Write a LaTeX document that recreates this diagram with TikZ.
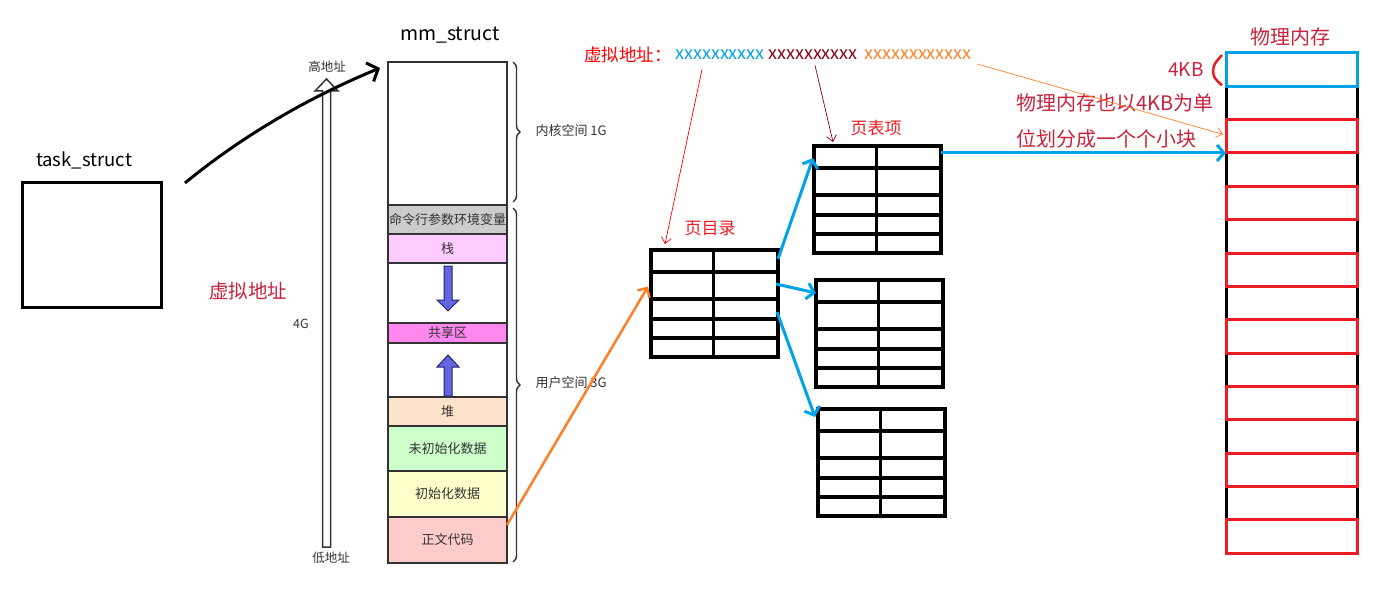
\documentclass[tikz,border=0pt]{standalone}
\usepackage{fontspec}
\setmainfont{Noto Sans CJK SC}
\usetikzlibrary{arrows.meta,decorations.pathreplacing,calc}
\definecolor{crim}{RGB}{200,35,60}
\definecolor{pmred}{RGB}{237,28,36}
\definecolor{pblue}{RGB}{0,162,232}
\definecolor{porange}{RGB}{255,127,39}
\definecolor{dred}{RGB}{136,0,21}
\definecolor{txtgray}{RGB}{51,51,51}
\definecolor{cgray}{RGB}{204,204,204}
\definecolor{cstack}{RGB}{255,204,255}
\definecolor{cshare}{RGB}{255,136,238}
\definecolor{cheap}{RGB}{253,227,203}
\definecolor{cbss}{RGB}{204,255,204}
\definecolor{cdata}{RGB}{255,255,204}
\definecolor{ctext}{RGB}{255,204,204}
\definecolor{carrow}{RGB}{100,100,225}
\newcommand\ptab[3]{%
  \node[tbl, anchor=north west] (#1) at (#2,#3) {};
  \foreach \r in {22,49,69,88}
    \draw[tblline] ($(#1.north west)+(0,\r)$) -- ($(#1.north east)+(0,\r)$);
  \draw[tblline] ($(#1.north west)+(62.5,0)$) -- ($(#1.south west)+(62.5,0)$);
}
\begin{document}
\begin{tikzpicture}[x=1pt,y=-1pt,
  fs/.style={font=\fontsize{#1}{#1}\selectfont},
  col/.style={draw=txtgray, line width=1.8pt, outer sep=0, minimum width=119, inner sep=0, text=txtgray, fs=13},
  tbl/.style={draw=black, line width=3.5pt, outer sep=0, minimum width=127, minimum height=107, inner sep=0},
  tblline/.style={draw=black, line width=3.5pt},
  pmcell/.style={line width=3pt, outer sep=0, minimum width=131, minimum height=33.333, inner sep=0},
  bluearr/.style={draw=pblue, line width=3pt, -{Straight Barb[length=7pt,width=16pt,line width=3pt]}},
  thinarr/.style={line width=0.7pt, -{Straight Barb[length=6pt,width=10pt]}},
  mbrace/.style={draw=txtgray, line width=1.4pt, decorate, decoration={brace, amplitude=7pt}},
  colarr/.style={draw=txtgray!70!blue, fill=carrow, line width=1pt}
]
\useasboundingbox (0,0) rectangle (1383,591);

% task_struct
\node[draw, line width=3pt, outer sep=0, minimum width=139, minimum height=125, inner sep=0] (task) at (91.5,244.5) {};
\node[fs=18.5] (tasklbl) at (84,160) {task\_struct};

% mm_struct column
\node[fs=19.5] (mmlbl) at (450,35) {mm\_struct};
\node[col, minimum height=143, fill=white] (kern) at (447.5,133.5) {};
\node[col, minimum height=29, fill=cgray] (cmd) at (447.5,219.5) {命令行参数环境变量};
\node[col, minimum height=29, fill=cstack] (stack) at (447.5,248.5) {栈};
\node[col, minimum height=60, fill=white] (gap1) at (447.5,293) {};
\node[col, minimum height=20, fill=cshare] (share) at (447.5,333) {共享区};
\node[col, minimum height=54, fill=white] (gap2) at (447.5,370) {};
\node[col, minimum height=29, fill=cheap] (heap) at (447.5,411.5) {堆};
\node[col, minimum height=45, fill=cbss] (bss) at (447.5,448.5) {未初始化数据};
\node[col, minimum height=46, fill=cdata] (data) at (447.5,494) {初始化数据};
\node[col, minimum height=46, fill=ctext] (text) at (447.5,540) {正文代码};

% arrows inside column
\draw[colarr] (444,266) -- (452,266) -- (452,300) -- (459,300) -- (448,311) -- (437,300) -- (444,300) -- cycle;
\draw[colarr] (444,396) -- (452,396) -- (452,367) -- (459,367) -- (448,355) -- (437,367) -- (444,367) -- cycle;

% braces
\draw[mbrace] (513,62) -- (513,202);
\draw[mbrace] (513,208) -- (513,562);
\node[fs=13, text=txtgray, anchor=west] (kernlbl) at (532,131) {内核空间 1G};
\node[fs=13, text=txtgray, anchor=west] (userlbl) at (532,383) {用户空间 3G};

% address axis
\draw[draw=txtgray, line width=1.5pt, fill=white, line join=miter] (322.5,547) -- (322.5,91) -- (315,91) -- (326.5,79) -- (338,91) -- (330.5,91) -- (330.5,547) -- cycle;
\node[fs=12.5, text=txtgray] (hi) at (327,67) {高地址};
\node[fs=12.5, text=txtgray] (lo) at (331,558) {低地址};
\node[fs=12.5, text=txtgray] (fourg) at (301,324) {4G};
\node[fs=19.5, text=crim] (valbl) at (248,291) {虚拟地址};

% task -> mm
\draw[line width=3pt, -{Straight Barb[length=9pt,width=20pt,line width=3pt]}]
  ($(task.north east)+(24,1)$) .. controls (225,150) and (290,105) .. ($(kern.north west)+(-8,6)$);

% top virtual address
\node[fs=17.5, text=red] (va) at (628,55) {虚拟地址：};
\node[fs=18, text=pblue] (vx1) at (720,55) {xxxxxxxxxx};
\node[fs=18, text=dred] (vx2) at (813,55) {xxxxxxxxxx};
\node[fs=18, text=porange] (vx3) at (918,55) {xxxxxxxxxxxx};

% page tables
\ptab{pd}{651}{250}
\ptab{pt1}{814}{146}
\ptab{pt2}{816}{280}
\ptab{pt3}{818}{409}
\node[fs=17, text=pmred] (pdlbl) at (710,229) {页目录};
\node[fs=17, text=pmred] (ptlbl) at (876,128) {页表项};

% physical memory
\node[fs=20, text=crim] (pmlbl) at (1290,37) {物理内存};
\draw[line width=3pt] (1226,53) rectangle (1357,553);
\foreach \i in {0,...,14}
  \node[pmcell] (pm\i) at (1291.5,{69.667+33.333*\i}) {};
\foreach \i in {2,4,...,14}
  \draw[pmred, line width=3pt] (pm\i.north west) rectangle (pm\i.south east);
\draw[pblue, line width=3pt] (pm0.north west) rectangle (pm0.south east);
\node[fs=19, text=crim] (kb) at (1186,70) {4KB};
\draw[pmred, line width=2.5pt] ($(pm0.north west)+(-4,2)$) .. controls (1214,64) .. (1213,71) .. controls (1214,78) .. ($(pm0.south west)+(-4,-1)$);
\node[fs=20, text=crim, anchor=west] (note1) at (1013,103) {物理内存也以4KB为单};
\node[fs=20, text=crim, anchor=west] (note2) at (1013,139) {位划分成一个个小块};

% connectors
\draw[porange, line width=2.5pt, -{Straight Barb[length=7pt,width=14pt,line width=2.5pt]}]
  ($(text.east)+(0,-15)$) -- ($(pd.west)+(-3,-17)$);
\draw[bluearr] ($(pd.north east)+(0,9)$) -- ($(pt1.north west)+(-1,12)$);
\draw[bluearr] ($(pd.north east)+(-2,34)$) -- ($(pt2.north west)+(0,13)$);
\draw[bluearr] ($(pd.north east)+(-1,62)$) -- ($(pt3.north west)+(-3,8)$);
\draw[bluearr] (pt1.east |- pm2.south) -- (pm2.south west);
\draw[thinarr, red] ($(vx1.south)+(-18,6)$) -- ($(pd.north west)+(14,-6)$);
\draw[thinarr, dred] ($(vx2.south)+(2,2)$) -- ($(pt1.north west)+(19,-4)$);
\draw[thinarr, porange] ($(vx3.east)+(2,9)$) -- ($(pm2.west)+(-3,-2)$);
\end{tikzpicture}
\end{document}
